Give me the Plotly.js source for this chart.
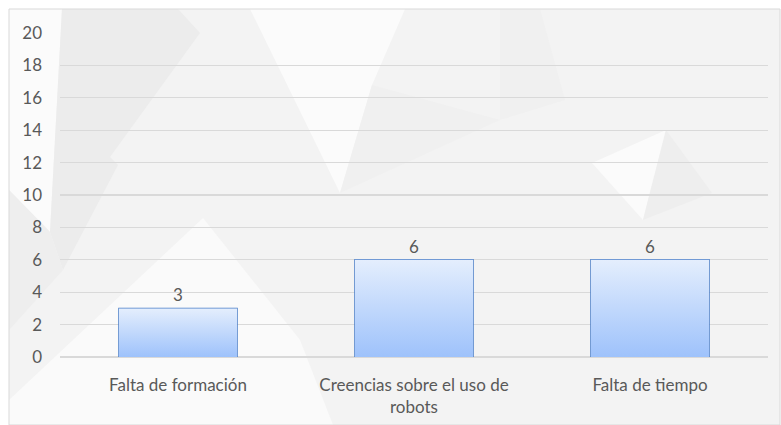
<!DOCTYPE html>
<html>
<head>
<meta charset="utf-8">
<script src="https://cdn.plot.ly/plotly-3.0.1.min.js"></script>
<style>html,body{margin:0;padding:0;background:#fff;}#chart{width:781px;height:425px;}</style>
</head>
<body>
<div id="chart"></div>
<script>
// ---- data ----
const categories = ["Falta de formación", "Creencias sobre el uso de<br>robots", "Falta de tiempo"];
const values = [3, 6, 6];
const yTicks = [0, 2, 4, 6, 8, 10, 12, 14, 16, 18, 20];

// ---- layout constants ----
const W = 781, H = 425;
const M = {l: 60, r: 13, t: 33, b: 68};
const PW = W - M.l - M.r, PH = H - M.t - M.b;
const barWidth = 0.5;
const FONT = 'Lato, "Open Sans", sans-serif';

// decorative background (pixel polygons -> paper coords)
function P(pts) {
  return pts.map((p, i) => (i ? 'L' : 'M') + ((p[0] - M.l) / PW).toFixed(4) + ',' + ((H - M.b - p[1]) / PH).toFixed(4)).join(' ') + ' Z';
}
function deco(pts, color) {
  return {type: 'path', xref: 'paper', yref: 'paper', path: P(pts), fillcolor: color, line: {width: 0}, layer: 'below'};
}
const shapes = [
  deco([[9,9],[780,9],[780,425],[9,425]], '#f3f3f3'),
  deco([[9,9],[62,9],[50,232],[9,190]], '#fbfbfb'),
  deco([[62,9],[178,9],[200,33],[110,157],[118,165],[63,270],[50,232]], '#ececec'),
  deco([[9,190],[50,232],[63,270],[9,330]], '#eeeeee'),
  deco([[250,9],[405,9],[372,85],[340,193]], '#fbfbfb'),
  deco([[372,85],[500,120],[340,193]], '#f0f0f0'),
  deco([[203,218],[300,340],[333,425],[9,425],[9,400]], '#fafafa'),
  deco([[592,163],[666,130],[643,220]], '#fbfbfb'),
  deco([[666,130],[712,193],[643,220]], '#eeeeee'),
  deco([[500,9],[540,9],[565,100],[500,120]], '#f0f0f0'),
  {type: 'rect', xref: 'paper', yref: 'paper', x0: (9 - M.l) / PW, x1: (780 - M.l) / PW, y0: (H - M.b - 425) / PH, y1: (H - M.b - 9) / PH,
   line: {color: '#d9d9d9', width: 1}, fillcolor: 'rgba(0,0,0,0)', layer: 'below'}
];

const xs = categories.map((c, i) => i);

// gradient fills for bars (from data)
const gradTraces = values.map((v, i) => ({
  type: 'scatter', mode: 'lines',
  x: [i - barWidth / 2, i + barWidth / 2, i + barWidth / 2, i - barWidth / 2, i - barWidth / 2],
  y: [0, 0, v, v, 0],
  fill: 'toself',
  fillgradient: {type: 'vertical', colorscale: [[0, '#9ec2fb'], [1, '#e4eefd']]},
  line: {width: 0, color: 'rgba(0,0,0,0)'},
  hoverinfo: 'skip', showlegend: false
}));

const barTrace = {
  type: 'bar', x: xs, y: values, width: barWidth,
  marker: {color: 'rgba(0,0,0,0)', line: {color: '#4a7ec8', width: 1.5}},
  text: values.map(String), textposition: 'outside', cliponaxis: false,
  textfont: {family: FONT, size: 17, color: '#595959'},
  showlegend: false
};

const layout = {
  width: W, height: H,
  margin: M,
  paper_bgcolor: '#ffffff', plot_bgcolor: 'rgba(0,0,0,0)',
  font: {family: FONT, size: 17, color: '#595959'},
  showlegend: false,
  xaxis: {
    range: [-0.5, 2.5], tickvals: xs, ticktext: categories,
    showgrid: false, zeroline: false, showline: false, ticks: '',
    ticklabelstandoff: 16, fixedrange: true
  },
  yaxis: {
    range: [0, 20], tickvals: yTicks, ticktext: yTicks.map(String),
    showgrid: true, gridcolor: '#d9d9d9', gridwidth: 1.3,
    zeroline: true, zerolinecolor: '#d9d9d9', zerolinewidth: 1.3,
    showline: false, ticks: '', ticklabelstandoff: 17, fixedrange: true
  },
  shapes: shapes
};

Plotly.newPlot('chart', [...gradTraces, barTrace], layout, {displayModeBar: false, staticPlot: true});
</script>
</body>
</html>
